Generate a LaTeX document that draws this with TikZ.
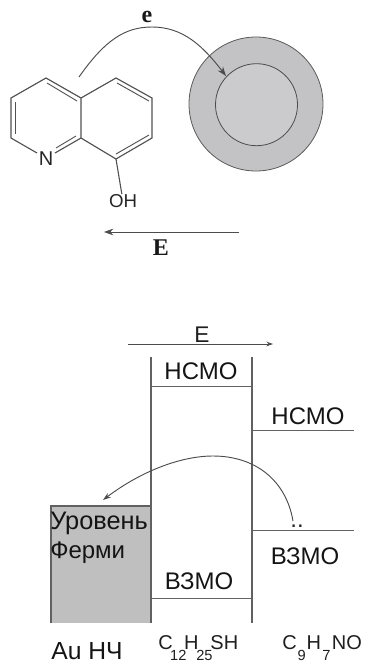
\documentclass[tikz,border=0pt]{standalone}
\usepackage{fontspec}
\setmainfont{Liberation Sans}
\newfontfamily\serifbold[BoldFont={Liberation Serif Bold}]{Liberation Serif}
\usetikzlibrary{arrows.meta}
\newcommand{\lowered}[2]{\makebox[#1pt][c]{\raisebox{-8pt}{\fontsize{11}{11}\selectfont #2}}}
\definecolor{shellgray}{HTML}{C3C3C5}
\definecolor{coregray}{HTML}{CBCBCD}
\definecolor{boxgray}{HTML}{BFBFBF}
\tikzset{
  bond/.style={draw=black!68,line width=0.85pt},
  rule/.style={draw=black!62,line width=0.9pt},
  arrowline/.style={draw=black!70,line width=0.7pt,-{Stealth[length=7pt,width=5pt]}},
  lab/.style={inner sep=0pt,text=black!92,font=\fontsize{18}{18}\selectfont},
  small/.style={inner sep=0pt,text=black!88,font=\fontsize{15}{15}\selectfont},
  chem/.style={inner sep=0pt,text=black!85,font=\fontsize{14}{14}\selectfont},
  serifb/.style={inner sep=0pt,text=black!90,font=\serifbold\bfseries\fontsize{18}{18}\selectfont},
}
\begin{document}
\begin{tikzpicture}[x=0.75pt,y=-0.75pt]
\useasboundingbox (0,0) rectangle (366,668);
% nanoparticle
\node[circle,draw=black!65,fill=shellgray,line width=0.6pt,minimum size=100.5pt,inner sep=0pt] (shell) at (256,104) {};
\node[circle,draw=black!70,fill=coregray,line width=0.6pt,minimum size=61.5pt,inner sep=0pt] (core) at (256.5,104.7) {};
% quinolinol
\coordinate (a1) at (46,78);
\coordinate (a2) at (81,98);
\coordinate (a3) at (81,138);
\coordinate (a5) at (11,138);
\coordinate (a6) at (11,98);
\coordinate (b1) at (116,78);
\coordinate (b2) at (152,98);
\coordinate (b3) at (152,138);
\coordinate (b4) at (116,159);
\coordinate (ni1) at (55,153);
\coordinate (ni2) at (56,148);
\coordinate (ni3) at (37,153);
\node[chem,font=\fontsize{15}{15}\selectfont] (N) at (46,159) {N};
\node[chem] (OH) at (123,201) {OH};
\draw[bond] (ni3) -- (a5) -- (a6) -- (a1) -- (a2) -- (a3) -- (ni1);
\draw[bond] (a2) -- (b1) -- (b2) -- (b3) -- (b4) -- (a3);
\draw[bond] (b4) -- (OH);
\draw[bond,line width=0.7pt] ([shift={(1,5)}]a1) -- ([shift={(-4,3)}]a2);
\draw[bond,line width=0.7pt] ([shift={(4,4)}]a6) -- ([shift={(4,-4)}]a5);
\draw[bond,line width=0.7pt] ([shift={(-5,-2)}]a3) -- (ni2);
\draw[bond,line width=0.7pt] ([shift={(1,5)}]b1) -- ([shift={(-3,3)}]b2);
\draw[bond,line width=0.7pt] ([shift={(-3,-3)}]b3) -- ([shift={(0,-5)}]b4);
% electron arrow
\coordinate (es) at (79,77);
\coordinate (ee) at (226,76);
\draw[arrowline] (es) .. controls (105,40) and (125,27) .. (152,27) .. controls (183,27) and (203,46) .. (ee);
\node[serifb] (elabel) at (147,17) {e};
\coordinate (f1) at (239,232);
\coordinate (f2) at (104,232);
\draw[arrowline] (f1) -- (f2);
\node[serifb] (Elabel) at (161,248) {E};
% energy diagram
\node[draw=none,fill=boxgray,minimum width=75pt,minimum height=87.75pt,inner sep=0pt] (box) at (101,564.5) {};
\coordinate (v1t) at (151,357);
\coordinate (v1b) at (151,623);
\coordinate (v2t) at (252,357);
\coordinate (v2b) at (252,623);
\coordinate (boxtl) at (51,506);
\coordinate (boxtr) at (151,506);
\coordinate (boxbl) at (51,623);
\draw[rule] (boxbl) -- (boxtl) -- (boxtr);
\draw[rule] (v1t) -- (v1b);
\draw[rule] (v2t) -- (v2b);
\coordinate (h1a) at (151,386); \coordinate (h1b) at (252,386);
\coordinate (h2a) at (252,430); \coordinate (h2b) at (354,430);
\coordinate (l1a) at (252,530); \coordinate (l1b) at (354,530);
\coordinate (l2a) at (151,598); \coordinate (l2b) at (252,598);
\draw[rule,line width=0.75pt] (h1a) -- (h1b);
\draw[rule,line width=0.75pt] (h2a) -- (h2b);
\draw[rule,line width=0.75pt] (l1a) -- (l1b);
\draw[rule,line width=0.75pt] (l2a) -- (l2b);
\coordinate (g1) at (128,344);
\coordinate (g2) at (273,344);
\draw[arrowline,-{Stealth[length=5pt,width=3.5pt]}] (g1) -- (g2);
\node[small,font=\fontsize{17}{17}\selectfont] (Etop) at (202,335) {E};
\node[lab] (h1) at (201,371) {НСМО};
\node[lab] (h2) at (308,416) {НСМО};
\node[lab] (l1) at (305,556) {ВЗМО};
\node[lab] (l2) at (199,581) {ВЗМО};
\node[lab,anchor=west,font=\fontsize{19}{19}\selectfont] (u1) at (50,523) {Уровень};
\node[lab,anchor=west] (u2) at (50,553) {Ферми};
\node[lab,font=\fontsize{18.5}{18.5}\selectfont] (au) at (87,651) {Au НЧ};
\node[small,anchor=west] (c12) at (158,648) {C\lowered{8.5}{12}H\lowered{9}{25}SH};
\node[small,anchor=west] (c9) at (282,648) {C\lowered{7.5}{9}H\lowered{8}{7}NO};
\node[inner sep=0pt,text=black!85,font=\fontsize{18}{18}\selectfont] (dots) at (297,526) {..};
\coordinate (t1) at (293,521);
\coordinate (t2) at (103,500);
\draw[arrowline,-{Stealth[length=6pt,width=4pt]}] (t1) .. controls (286,480) and (255,456) .. (213,456) .. controls (180,456) and (140,472) .. (t2);
\end{tikzpicture}
\end{document}
